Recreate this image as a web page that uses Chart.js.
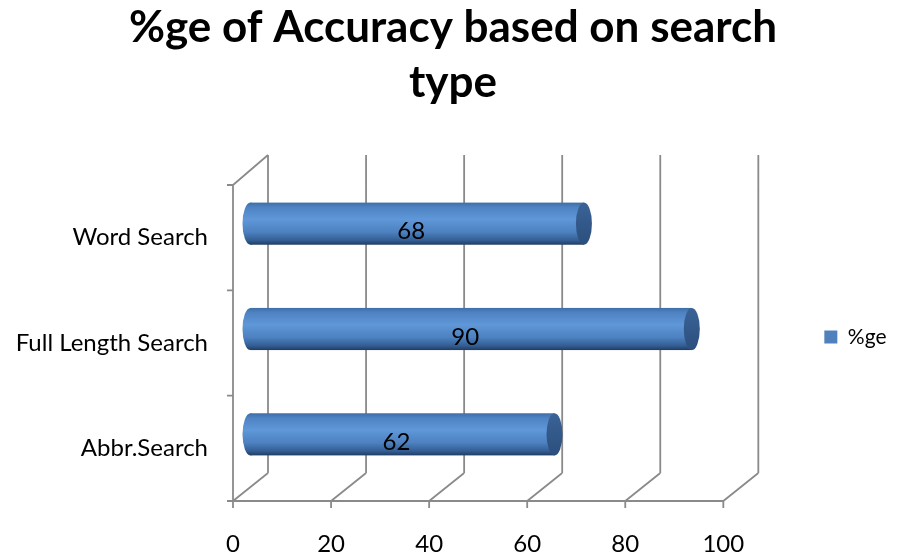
<!DOCTYPE html>
<html>
<head>
<meta charset="utf-8">
<script src="https://cdn.jsdelivr.net/npm/chart.js@4/dist/chart.umd.min.js"></script>
<style>
  html, body { margin: 0; padding: 0; background: #fff; }
  #wrap { width: 906px; height: 557px; }
</style>
</head>
<body>
<div id="wrap"><canvas id="grafico"></canvas></div>
<script>
const categorias = ["Word Search", "Full Length Search", "Abbr.Search"];
const valores = [68, 90, 62];
const ticksX = [0, 20, 40, 60, 80, 100];
const serie = "%ge";
const titulo = ["%ge of Accuracy based on search", "type"];

// medio fondo de la "caja" 3D (desplazamiento hacia atras/adelante)
const DX = 17.5, DY = 14;
const gris = "#8a8a8a";

const paredes = {
  id: "paredes",
  beforeDatasetsDraw(chart) {
    const { ctx, chartArea: a, scales: { x } } = chart;
    const frente = v => x.getPixelForValue(v) - DX;
    const fondo = v => x.getPixelForValue(v) + DX;
    const pisoF = a.bottom + DY, pisoB = a.bottom - DY;
    const techoB = a.top - DY - 2, techoF = a.top + DY;
    ctx.save();
    ctx.strokeStyle = gris;
    ctx.lineWidth = 1.8;
    ctx.beginPath();
    ticksX.forEach(v => {
      ctx.moveTo(fondo(v), techoB); ctx.lineTo(fondo(v), pisoB);
      ctx.moveTo(frente(v), pisoF); ctx.lineTo(fondo(v), pisoB);
      ctx.moveTo(frente(v), pisoF); ctx.lineTo(frente(v), pisoF + 7);
    });
    ctx.moveTo(frente(0), pisoF); ctx.lineTo(frente(ticksX[ticksX.length - 1]), pisoF);
    // pared izquierda
    ctx.moveTo(frente(0), techoF); ctx.lineTo(frente(0), pisoF);
    ctx.moveTo(frente(0), techoF); ctx.lineTo(fondo(0), techoB);
    const n = categorias.length, paso = (a.bottom - a.top) / n;
    for (let i = 0; i <= n; i++) {
      const yy = techoF + i * paso;
      ctx.moveTo(frente(0) - 6, yy); ctx.lineTo(frente(0), yy);
    }
    ctx.stroke();
    ctx.restore();
  }
};

const cilindros = {
  id: "cilindros",
  afterDatasetsDraw(chart) {
    const { ctx } = chart;
    const meta = chart.getDatasetMeta(0);
    ctx.save();
    meta.data.forEach((bar, i) => {
      const h = bar.height, y0 = bar.y - h / 2, y1 = bar.y + h / 2;
      const rx = 8;
      const g = ctx.createLinearGradient(0, y0, 0, y1);
      g.addColorStop(0, "#3e6ea8");
      g.addColorStop(0.12, "#4f84c4");
      g.addColorStop(0.4, "#5f97d8");
      g.addColorStop(0.7, "#4d81c0");
      g.addColorStop(0.9, "#335d92");
      g.addColorStop(1, "#1f3c62");
      ctx.fillStyle = g;
      ctx.beginPath();
      ctx.ellipse(bar.base, bar.y, rx, h / 2, 0, 0, Math.PI * 2);
      ctx.fill();
      ctx.fillRect(bar.base, y0, bar.x - bar.base, h);
      // tapa
      const gc = ctx.createLinearGradient(0, y0, 0, y1);
      gc.addColorStop(0, "#3b6397");
      gc.addColorStop(1, "#2b4f7d");
      ctx.fillStyle = gc;
      ctx.beginPath();
      ctx.ellipse(bar.x, bar.y, rx, h / 2, 0, 0, Math.PI * 2);
      ctx.fill();
      // etiqueta
      ctx.fillStyle = "#000";
      ctx.font = "24px Lato";
      ctx.textAlign = "center";
      ctx.textBaseline = "middle";
      ctx.fillText(String(valores[i]), (bar.base + bar.x) / 2 - 6, bar.y + 8);
    });
    ctx.restore();
  }
};

new Chart(document.getElementById("grafico"), {
  type: "bar",
  data: {
    labels: categorias,
    datasets: [{
      label: serie,
      data: valores,
      backgroundColor: "rgba(0,0,0,0)",
      borderWidth: 0,
      barPercentage: 0.4,
      categoryPercentage: 1
    }]
  },
  options: {
    indexAxis: "y",
    responsive: true,
    maintainAspectRatio: false,
    animation: false,
    layout: { padding: { left: 9.5, right: 9.5, top: 0, bottom: 0 } },
    plugins: {
      title: {
        display: true,
        text: titulo,
        color: "#000",
        font: { family: "Lato", size: 44, weight: "bold", lineHeight: 1.25 },
        padding: { top: 0, bottom: 61 }
      },
      legend: {
        position: "right",
        fullSize: false,
        title: { display: true, text: " ", font: { size: 10, lineHeight: 1 }, padding: { top: 3, bottom: 3 } },
        labels: {
          color: "#000",
          font: { family: "Lato", size: 21 },
          boxWidth: 13,
          boxHeight: 13,
          padding: 83.5,
          generateLabels: () => [{
            text: serie, fillStyle: "#4f81bd", strokeStyle: "#4f81bd", fontColor: "#000",
            lineWidth: 0, hidden: false, datasetIndex: 0
          }]
        }
      },
      tooltip: { enabled: false }
    },
    scales: {
      x: {
        min: 0,
        max: 100,
        afterBuildTicks: s => { s.ticks = ticksX.map(v => ({ value: v })); },
        afterFit: s => { s.height = 70; },
        grid: { display: false, drawTicks: false },
        border: { display: false },
        ticks: { color: "#000", font: { family: "Lato", size: 24 }, padding: 42.5, labelOffset: -DX }
      },
      y: {
        afterFit: s => { s.width = 241; },
        grid: { display: false, drawTicks: false },
        border: { display: false },
        ticks: { color: "#000", font: { family: "Lato", size: 24 }, padding: 42.5, labelOffset: DY }
      }
    }
  },
  plugins: [paredes, cilindros]
});
</script>
</body>
</html>
